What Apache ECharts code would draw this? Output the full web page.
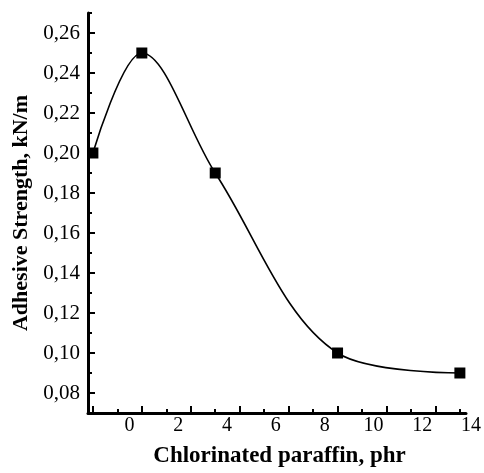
<!DOCTYPE html>
<html>
<head>
<meta charset="utf-8">
<script src="https://cdn.jsdelivr.net/npm/echarts@6/dist/echarts.min.js"></script>
<style>html,body{margin:0;padding:0;background:#fff}#c{width:484px;height:473px}</style>
</head>
<body>
<div id="c"></div>
<script>
const xValues = [-1.5, 0.5, 3.5, 8.5, 13.5];
const yValues = [0.200, 0.250, 0.190, 0.100, 0.090];
const xTickLabels = [0, 2, 4, 6, 8, 10, 12, 14];
const yTickLabels = [0.08, 0.10, 0.12, 0.14, 0.16, 0.18, 0.20, 0.22, 0.24, 0.26];
const xMajorTicks = [-1.5, 0.5, 2.5, 4.5, 6.5, 8.5, 10.5, 12.5];
const xMinorTicks = [-0.5, 1.5, 3.5, 5.5, 7.5, 9.5, 11.5, 13.5];
const yMinorTicks = [0.07, 0.09, 0.11, 0.13, 0.15, 0.17, 0.19, 0.21, 0.23, 0.25, 0.27];
const xTitle = 'Chlorinated paraffin, phr';
const yTitle = 'Adhesive Strength, kN/m';

const FONT = 'Liberation Serif';
const X_MIN = -1.7, X_MAX = 13.75, X_LABEL_MAX = 14;
const Y_MIN = 0.07, Y_MAX = 0.27;

const chart = echarts.init(document.getElementById('c'), null, {renderer: 'canvas'});
chart.setOption({
  backgroundColor: '#fff',
  animation: false,
  grid: [
    {left: 88, right: 18, top: 13, bottom: 60},
    {left: 88, right: 12, top: 13, bottom: 60}
  ],
  xAxis: [
    {
      gridIndex: 0, type: 'value', min: X_MIN, max: X_MAX, position: 'bottom',
      axisLine: {show: true, onZero: false, lineStyle: {color: '#000', width: 3}},
      axisTick: {show: true, inside: true, length: 7, lineStyle: {color: '#000', width: 2}, customValues: xMajorTicks},
      axisLabel: {show: false},
      splitLine: {show: false}
    },
    {
      gridIndex: 0, type: 'value', min: X_MIN, max: X_MAX, position: 'bottom', offset: 0,
      axisLine: {show: false, onZero: false},
      axisTick: {show: true, inside: true, length: 4, lineStyle: {color: '#000', width: 2}, customValues: xMinorTicks},
      axisLabel: {show: false},
      splitLine: {show: false}
    },
    {
      gridIndex: 1, type: 'value', min: X_MIN, max: X_LABEL_MAX, position: 'bottom',
      axisLine: {show: false, onZero: false},
      axisTick: {show: false},
      axisLabel: {
        show: true, customValues: xTickLabels, margin: 7,
        color: '#000', fontFamily: FONT, fontSize: 20,
        formatter: v => String(v)
      },
      splitLine: {show: false},
      name: xTitle, nameLocation: 'middle', nameGap: 36,
      nameTextStyle: {color: '#000', fontFamily: FONT, fontSize: 23, fontWeight: 'bold'}
    }
  ],
  yAxis: [
    {
      gridIndex: 0, type: 'value', min: Y_MIN, max: Y_MAX, position: 'left',
      axisLine: {show: true, onZero: false, lineStyle: {color: '#000', width: 3}},
      axisTick: {show: true, inside: true, length: 7, lineStyle: {color: '#000', width: 2}, customValues: yTickLabels},
      axisLabel: {
        show: true, customValues: yTickLabels, margin: 8,
        color: '#000', fontFamily: FONT, fontSize: 21,
        formatter: v => v.toFixed(2).replace('.', ',')
      },
      splitLine: {show: false},
      name: yTitle, nameLocation: 'middle', nameGap: 55,
      nameTextStyle: {color: '#000', fontFamily: FONT, fontSize: 22, fontWeight: 'bold'}
    },
    {
      gridIndex: 0, type: 'value', min: Y_MIN, max: Y_MAX, position: 'left', offset: 0,
      axisLine: {show: false, onZero: false},
      axisTick: {show: true, inside: true, length: 4, lineStyle: {color: '#000', width: 2}, customValues: yMinorTicks},
      axisLabel: {show: false},
      splitLine: {show: false}
    },
    {
      gridIndex: 1, type: 'value', min: Y_MIN, max: Y_MAX, show: false
    }
  ],
  series: [
    {
      type: 'line',
      xAxisIndex: 0, yAxisIndex: 0,
      data: xValues.map((x, i) => [x, yValues[i]]),
      smooth: 0.35,
      symbol: 'rect', symbolSize: 11,
      itemStyle: {color: '#000'},
      lineStyle: {color: '#000', width: 1.6},
      clip: false
    }
  ]
});
</script>
</body>
</html>
